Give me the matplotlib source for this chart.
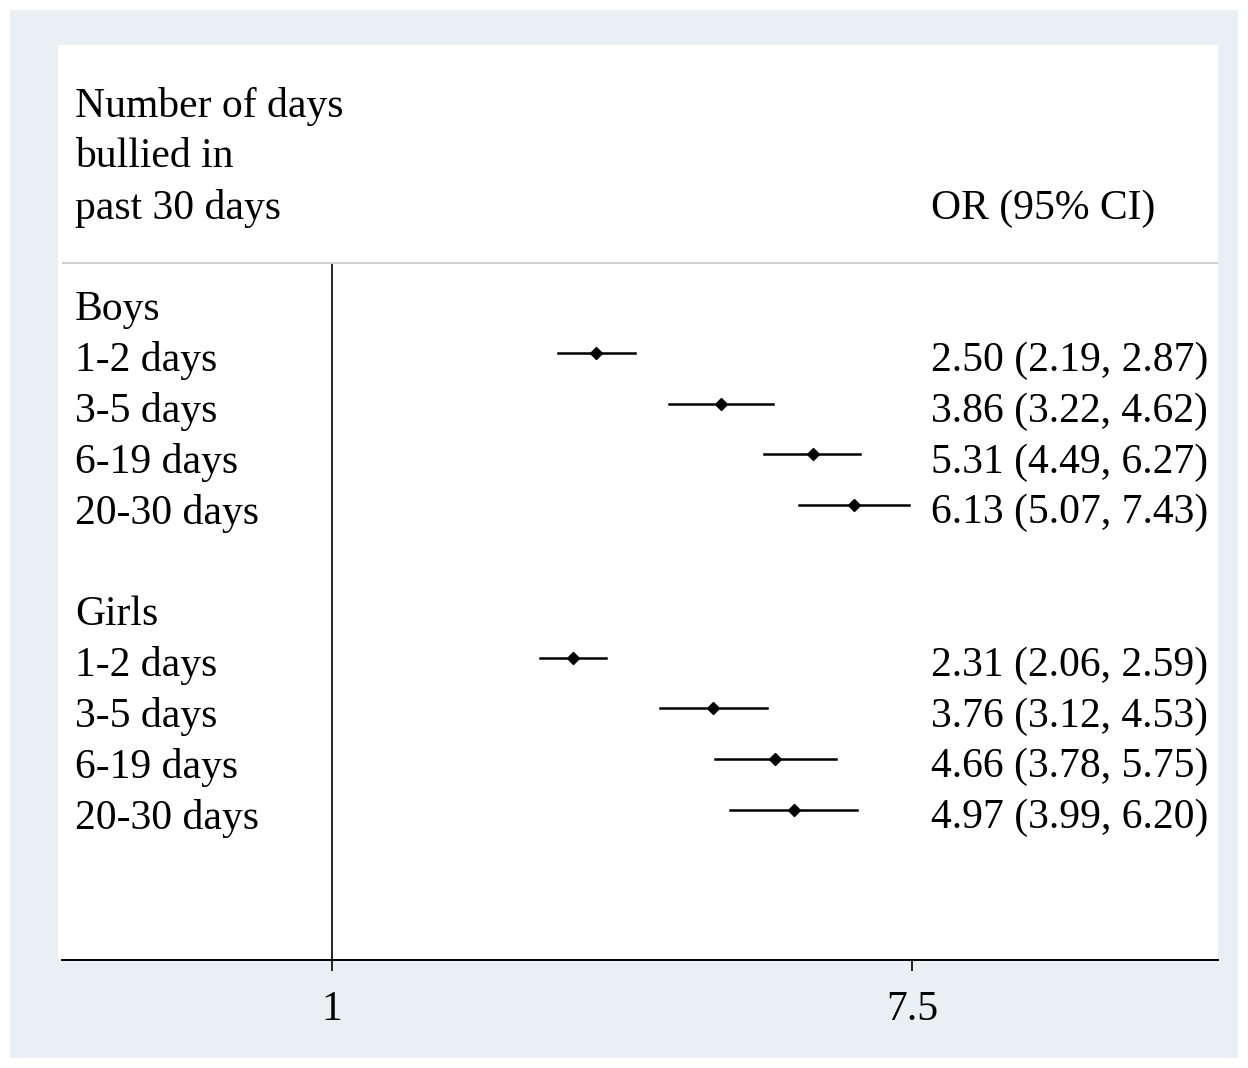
import matplotlib.pyplot as plt
import numpy as np

labels = ['Boys', '1-2 days', '3-5 days', '6-19 days', '20-30 days', '',
          'Girls', '1-2 days', '3-5 days', '6-19 days', '20-30 days']
orv = [None, 2.50, 3.86, 5.31, 6.13, None, None, 2.31, 3.76, 4.66, 4.97]
lo = [None, 2.19, 3.22, 4.49, 5.07, None, None, 2.06, 3.12, 3.78, 3.99]
hi = [None, 2.87, 4.62, 6.27, 7.43, None, None, 2.59, 4.53, 5.75, 6.20]

W, H = 1248, 1068
plt.rcParams['font.family'] = ['Liberation Serif', 'DejaVu Serif']
fig = plt.figure(figsize=(W / 100, H / 100), dpi=100)
fig.patch.set_facecolor('white')

def fx(x): return x / W
def fy(y): return 1 - y / H

def panel(x0, y0, x1, y1, c):
    a = fig.add_axes([fx(x0), fy(y1), (x1 - x0) / W, (y1 - y0) / H])
    a.set_facecolor(c); a.set_xticks([]); a.set_yticks([])
    for s in a.spines.values(): s.set_visible(False)

panel(10, 10, 1238, 1058, '#e9eff2')
panel(58, 45, 1218, 960, 'white')

ax = fig.add_axes([fx(62), fy(960), fx(1218 - 62), (960 - 45) / H])
ax.set_facecolor('none')
k = 580 / np.log(7.5)
ax.set_xscale('log')
ax.set_xlim(np.exp(-270 / k), np.exp(886 / k))
ax.set_ylim(960, 45)
for s in ['top', 'right', 'left']: ax.spines[s].set_visible(False)
ax.spines['bottom'].set_linewidth(1.4)
ax.set_xticks([1, 7.5]); ax.set_xticklabels(['1', '7.5'])
ax.minorticks_off()
ax.tick_params(axis='x', labelsize=30, length=8, width=1.2, pad=14)
ax.set_yticks([])

ax.plot([1, 1], [263, 960], color='black', lw=1.2)
ax.axhline(263, color='#d0d0d0', lw=1.5)

fs = 30
for i, lab in enumerate(labels):
    y = 307 + i * 50.8
    fig.text(fx(75), fy(y + 3), lab, fontsize=fs, va='center', ha='left')
    if orv[i] is not None:
        ax.plot([lo[i], hi[i]], [y - 5, y - 5], color='black', lw=1.8)
        ax.plot(orv[i], y - 5, marker='D', color='black', ms=6)
        fig.text(fx(1208), fy(y + 3), f'{orv[i]:.2f} ({lo[i]:.2f}, {hi[i]:.2f})',
                 fontsize=fs, va='center', ha='right')

fig.text(fx(75), fy(106), 'Number of days', fontsize=fs, va='center')
fig.text(fx(75), fy(157), 'bullied in', fontsize=fs, va='center')
fig.text(fx(75), fy(209), 'past 30 days', fontsize=fs, va='center')
fig.text(fx(1155), fy(209), 'OR (95% CI)', fontsize=fs, va='center', ha='right')

fig.savefig('out.png', dpi=100, facecolor=fig.get_facecolor())
